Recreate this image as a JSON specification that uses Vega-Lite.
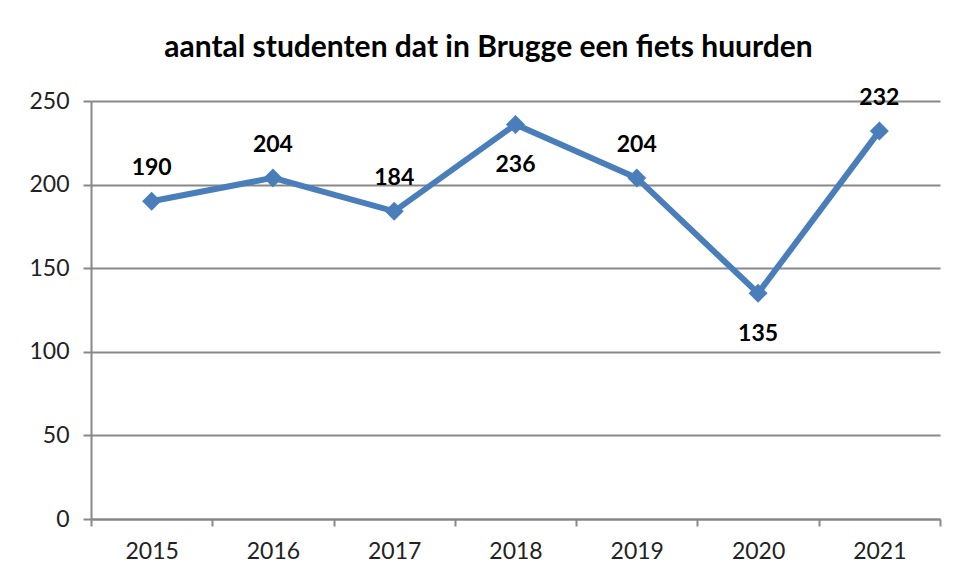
{
  "$schema": "https://vega.github.io/schema/vega-lite/v6.json",
  "autosize": "none",
  "width": 849,
  "height": 418,
  "padding": {"left": 91, "top": 101, "right": 18, "bottom": 62},
  "background": "white",
  "title": {
    "text": "aantal studenten dat in Brugge een fiets huurden",
    "font": "Lato",
    "fontSize": 30,
    "fontWeight": "bold",
    "color": "#000000",
    "anchor": "middle",
    "dx": -27,
    "offset": 24
  },
  "config": {
    "view": {"stroke": null},
    "axis": {
      "labelFont": "Lato",
      "labelFontSize": 23,
      "labelColor": "#222222",
      "domainColor": "#888888",
      "domainWidth": 2,
      "tickColor": "#888888",
      "tickWidth": 2,
      "gridColor": "#888888",
      "gridWidth": 2,
      "title": null
    }
  },
  "data": {
    "values": [
      {"jaar": "2015", "aantal": 190, "positie": "boven"},
      {"jaar": "2016", "aantal": 204, "positie": "boven"},
      {"jaar": "2017", "aantal": 184, "positie": "boven"},
      {"jaar": "2018", "aantal": 236, "positie": "onder"},
      {"jaar": "2019", "aantal": 204, "positie": "boven"},
      {"jaar": "2020", "aantal": 135, "positie": "onder"},
      {"jaar": "2021", "aantal": 232, "positie": "boven"}
    ]
  },
  "encoding": {
    "x": {
      "field": "jaar",
      "type": "ordinal",
      "scale": {"paddingInner": 0, "paddingOuter": 0},
      "axis": {"labelAngle": 0, "tickBand": "extent", "tickSize": 7, "labelPadding": 14, "grid": false}
    },
    "y": {
      "field": "aantal",
      "type": "quantitative",
      "scale": {"domain": [0, 250], "nice": false},
      "axis": {"values": [0, 50, 100, 150, 200, 250], "tickSize": 8, "labelPadding": 14, "grid": true}
    }
  },
  "layer": [
    {
      "mark": {"type": "line", "color": "#4a7ebb", "strokeWidth": 6, "strokeJoin": "miter"}
    },
    {
      "mark": {"type": "point", "shape": "diamond", "filled": true, "color": "#4a7ebb", "opacity": 1, "size": 360}
    },
    {
      "transform": [{"filter": "datum.positie === 'boven'"}],
      "mark": {"type": "text", "font": "Lato", "fontSize": 23, "fontWeight": "bold", "color": "#000000", "dy": -33, "baseline": "middle"},
      "encoding": {"text": {"field": "aantal", "type": "quantitative"}}
    },
    {
      "transform": [{"filter": "datum.positie === 'onder'"}],
      "mark": {"type": "text", "font": "Lato", "fontSize": 23, "fontWeight": "bold", "color": "#000000", "dy": 41, "baseline": "middle"},
      "encoding": {"text": {"field": "aantal", "type": "quantitative"}}
    }
  ]
}
